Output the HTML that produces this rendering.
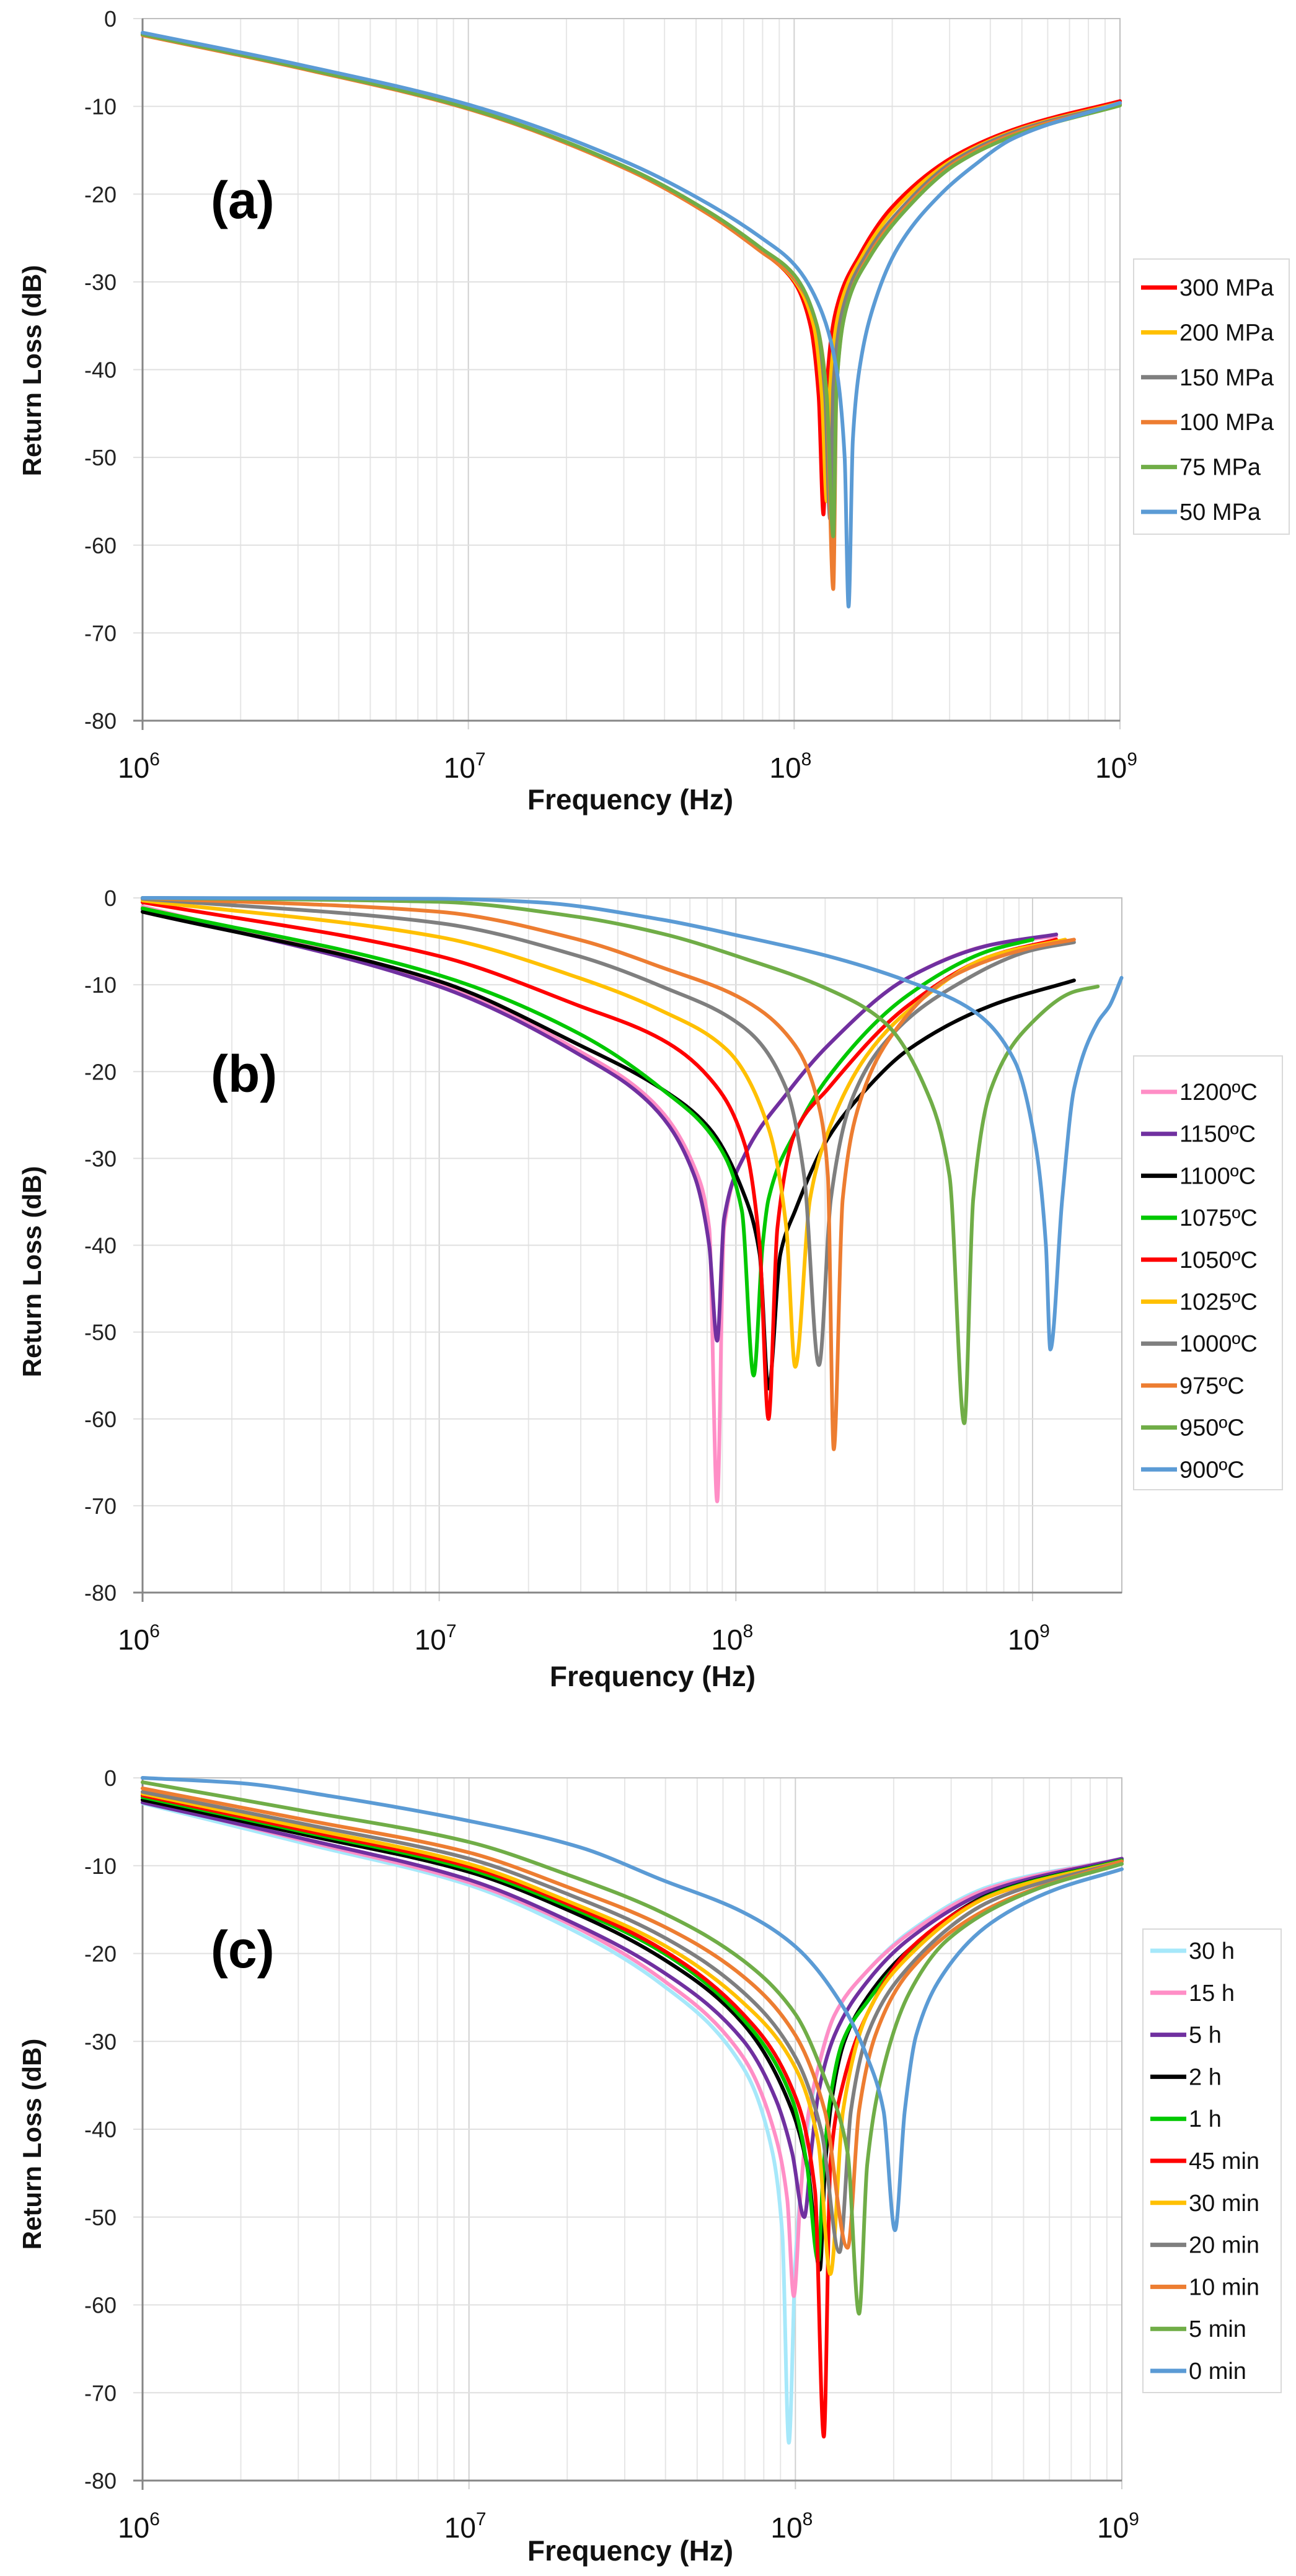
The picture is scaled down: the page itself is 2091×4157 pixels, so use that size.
<!DOCTYPE html>
<html><head><meta charset="utf-8"><style>
html,body{margin:0;padding:0;background:#fff;}
svg{display:block;font-family:"Liberation Sans",sans-serif;}
</style></head>
<body>
<svg id="fig" width="2091" height="4157" viewBox="0 0 2091 4157" xmlns="http://www.w3.org/2000/svg"></svg>
<script>
// ---------- shared tick data ----------
const yTicks = [0,-10,-20,-30,-40,-50,-60,-70,-80];
const xDecades = [6,7,8,9];

// ---------- chart (a) data ----------
const aNames = ["300 MPa","200 MPa","150 MPa","100 MPa","75 MPa","50 MPa"];
const aX300 = [6,6.5,7,7.5,7.75,7.9,8.0,8.05,8.075,8.09,8.1,8.13,8.2,8.3,8.5,8.7,9];
const aY300 = [-1.8,-5.7,-10.2,-17.3,-22.5,-26.5,-30,-35,-43,-56.5,-42,-33,-27,-21.5,-15.5,-12.3,-9.4];
const aX200 = [6,6.5,7,7.5,7.75,7.9,8.0,8.06,8.085,8.1,8.11,8.14,8.21,8.31,8.5,8.7,9];
const aY200 = [-1.8,-5.7,-10.2,-17.3,-22.5,-26.5,-29.8,-35,-43,-55,-42,-33,-27,-21.7,-15.8,-12.5,-9.6];
const aX150 = [6,6.5,7,7.5,7.75,7.9,8.0,8.07,8.095,8.11,8.12,8.15,8.22,8.32,8.5,8.7,9];
const aY150 = [-1.8,-5.7,-10.2,-17.3,-22.5,-26.5,-29.6,-35,-43,-57,-42,-33,-27,-22,-16,-12.6,-9.7];
const aX100 = [6,6.5,7,7.5,7.75,7.9,8.0,8.07,8.1,8.12,8.13,8.16,8.23,8.33,8.5,8.7,9];
const aY100 = [-1.9,-5.8,-10.3,-17.4,-22.6,-26.6,-29.5,-35,-43,-65,-42,-33,-27,-22,-16.3,-12.8,-9.8];
const aX75 = [6,6.5,7,7.5,7.75,7.9,8.0,8.07,8.1,8.12,8.13,8.16,8.23,8.33,8.5,8.7,9];
const aY75 = [-1.8,-5.7,-10.2,-17.2,-22.3,-26.2,-29.2,-35,-43,-59,-42,-33,-27.3,-22.3,-16.5,-13,-9.9];
const aX50 = [6,6.5,7,7.5,7.75,7.9,8.0,8.08,8.13,8.155,8.167,8.18,8.2,8.25,8.32,8.45,8.55,8.67,9];
const aY50 = [-1.6,-5.4,-9.8,-16.6,-21.4,-25,-28,-33,-40,-50,-67,-48,-40,-32,-26,-20,-16.8,-13.7,-9.6];

// ---------- chart (b) data ----------
const bNames = ["1200ºC","1150ºC","1100ºC","1075ºC","1050ºC","1025ºC","1000ºC","975ºC","950ºC","900ºC"];
const bX1200 = [6,7,7.47,7.72,7.86,7.91,7.937,7.96,8.03,8.17,8.31,8.58,8.86,9.08];
const bY1200 = [-1.0,-9.8,-17.6,-23.5,-31,-38,-69.5,-38,-29.6,-22.6,-17,-9.2,-5.4,-4.4];
const bX1150 = [6,7,7.47,7.72,7.86,7.91,7.937,7.96,8.03,8.17,8.31,8.58,8.86,9.08];
const bY1150 = [-1.3,-10.2,-18,-24,-32,-40,-51,-37,-29.6,-22.6,-17,-9.2,-5.4,-4.2];
const bX1100 = [6,7,7.47,7.75,7.91,8.02,8.08,8.11,8.15,8.2,8.31,8.44,8.58,8.86,9.14];
const bY1100 = [-1.6,-9.6,-16.9,-22,-26.5,-33.5,-41,-56.5,-41,-36,-27.7,-22,-17.5,-12.4,-9.5];
const bX1075 = [6,7,7.47,7.75,7.94,8.02,8.06,8.09,8.11,8.2,8.31,8.58,8.86,9.0];
const bY1075 = [-1.2,-8.9,-15.6,-22,-28.4,-36,-55,-40,-34.7,-27,-20.7,-11.2,-6,-4.8];
const bX1050 = [6,7,7.47,7.75,7.91,8.03,8.08,8.11,8.14,8.2,8.31,8.58,8.86,9.08];
const bY1050 = [-0.5,-6.7,-12.4,-16.3,-20.7,-28.4,-40,-60,-38,-27,-22,-12.4,-6.7,-4.8];
const bX1025 = [6,7,7.47,7.75,7.97,8.11,8.17,8.2,8.25,8.31,8.44,8.58,8.86,9.11];
const bY1025 = [-0.3,-4.5,-9.2,-13,-17.5,-26.5,-38,-54,-34.7,-27,-18.2,-13,-6.7,-4.8];
const bX1000 = [6,7,7.47,7.75,8.03,8.17,8.23,8.28,8.32,8.39,8.53,8.72,9.0,9.14];
const bY1000 = [-0.1,-2.9,-6.7,-10.2,-15,-22,-32,-53.8,-34.7,-23.3,-15.6,-10.5,-6,-5.1];
const bX975 = [6,7,7.47,7.75,8.03,8.2,8.28,8.31,8.33,8.36,8.42,8.53,8.72,9.0,9.14];
const bY975 = [0,-1.6,-4.8,-8,-11.8,-17,-24,-32,-63.5,-34.7,-23.3,-15.6,-9.2,-5.7,-4.8];
const bX950 = [6,7,7.47,7.75,8.03,8.31,8.5,8.64,8.72,8.77,8.8,8.86,9.0,9.14,9.22];
const bY950 = [0,-0.45,-2.2,-4.1,-7,-10.5,-14.3,-22,-32,-60.5,-34.7,-22,-14.3,-10.8,-10.2];
const bX900 = [6,7,7.33,7.75,8.03,8.31,8.58,8.8,8.94,9.01,9.045,9.06,9.1,9.14,9.22,9.26,9.3];
const bY900 = [0,-0.1,-0.5,-2.5,-4.5,-6.7,-9.6,-13,-18.8,-28.4,-40,-52,-34.7,-22,-14.3,-12.4,-9.2];

// ---------- chart (c) data ----------
const cNames = ["30 h","15 h","5 h","2 h","1 h","45 min","30 min","20 min","10 min","5 min","0 min"];
const cX30h = [6,6.5,7,7.3,7.59,7.84,7.93,7.96,7.98,8.0,8.03,8.07,8.12,8.22,8.35,8.6,9];
const cY30h = [-2.9,-7.5,-12.2,-17,-23.5,-33,-42.7,-52,-75.7,-55,-42,-33,-27,-22,-17.5,-12.3,-9.2];
const cX15h = [6,6.5,7,7.3,7.59,7.84,7.94,7.975,7.995,8.015,8.033,8.07,8.12,8.22,8.35,8.6,9];
const cY15h = [-2.6,-7.2,-11.9,-16.5,-22.9,-31.8,-40.9,-48,-59,-48,-40,-33,-27,-22,-17.7,-12.5,-9.2];
const cX5h = [6,6.5,7,7.3,7.59,7.84,7.94,7.99,8.027,8.05,8.07,8.12,8.22,8.35,8.6,9];
const cY5h = [-2.8,-7.0,-11.6,-16.2,-22,-29.9,-36.6,-42.7,-50,-42,-36,-29.3,-23.2,-18.3,-12.8,-9.2];
const cX2h = [6,6.5,7,7.3,7.59,7.84,7.99,8.04,8.075,8.09,8.11,8.15,8.22,8.35,8.6,9];
const cY2h = [-2.5,-6.5,-10.7,-15,-20.5,-28,-37.9,-45,-56,-45,-37,-30,-25,-19.5,-13.2,-9.4];
const cX1h = [6,6.5,7,7.3,7.59,7.84,7.99,8.035,8.07,8.085,8.105,8.145,8.22,8.35,8.6,9];
const cY1h = [-2.2,-6.2,-10.4,-14.6,-19.8,-27.5,-36.6,-44,-55,-45,-37,-30,-25.5,-19.8,-13.3,-9.4];
const cX45m = [6,6.5,7,7.3,7.59,7.84,7.99,8.06,8.087,8.107,8.146,8.22,8.35,8.6,9];
const cY45m = [-2.0,-6.0,-10.1,-14.3,-19.5,-26.9,-35.4,-47,-75,-44,-34.8,-26.9,-19.5,-13.4,-9.5];
const cX30m = [6,6.5,7,7.3,7.59,7.84,8.0,8.07,8.107,8.146,8.22,8.35,8.6,9];
const cY30m = [-1.8,-5.7,-9.8,-14,-18.9,-25.6,-33,-41.5,-56.5,-37.9,-26.9,-20.2,-13.4,-9.5];
const cX20m = [6,6.5,7,7.3,7.59,7.84,8.0,8.08,8.135,8.17,8.22,8.35,8.6,9];
const cY20m = [-1.6,-5.3,-9.2,-13.2,-18,-24.4,-31.8,-40.3,-54,-37.9,-29.3,-21.4,-14,-9.5];
const cX10m = [6,6.5,7,7.3,7.59,7.84,8.0,8.09,8.16,8.195,8.245,8.35,8.6,9];
const cY10m = [-1.2,-4.8,-8.5,-12.4,-16.8,-22.6,-29.3,-37.9,-53.5,-37.9,-29.3,-22,-14.7,-9.5];
const cX5m = [6,6.5,7,7.3,7.59,7.84,8.0,8.09,8.16,8.195,8.22,8.27,8.35,8.47,8.73,9];
const cY5m = [-0.5,-3.8,-7.3,-11,-15.3,-20.8,-26.9,-34.2,-42.7,-61,-44,-33,-24.4,-18.3,-12.8,-9.8];
const cX0m = [6,6.3,6.58,7,7.34,7.59,7.84,8.0,8.15,8.22,8.27,8.305,8.335,8.37,8.47,8.6,8.79,9];
const cY0m = [0,-0.6,-2.1,-4.9,-7.9,-11.6,-15.3,-19.2,-26.3,-31.8,-37.9,-51.5,-37.9,-29.3,-21.4,-16.5,-12.8,-10.4];

const aSeries = [[aX300,aY300],[aX200,aY200],[aX150,aY150],[aX100,aY100],[aX75,aY75],[aX50,aY50]];
const bSeries = [[bX1200,bY1200],[bX1150,bY1150],[bX1100,bY1100],[bX1075,bY1075],[bX1050,bY1050],[bX1025,bY1025],[bX1000,bY1000],[bX975,bY975],[bX950,bY950],[bX900,bY900]];
const cSeries = [[cX30h,cY30h],[cX15h,cY15h],[cX5h,cY5h],[cX2h,cY2h],[cX1h,cY1h],[cX45m,cY45m],[cX30m,cY30m],[cX20m,cY20m],[cX10m,cY10m],[cX5m,cY5m],[cX0m,cY0m]];

// ---------- styles ----------
const aColors = ["#FF0000","#FFC000","#7F7F7F","#ED7D31","#70AD47","#5B9BD5"];
const bColors = ["#FF8EC6","#7030A0","#000000","#00C800","#FF0000","#FFC000","#7F7F7F","#ED7D31","#70AD47","#5B9BD5"];
const cColors = ["#A6E8FA","#FF8EC6","#7030A0","#000000","#00C800","#FF0000","#FFC000","#7F7F7F","#ED7D31","#70AD47","#5B9BD5"];

const NS = "http://www.w3.org/2000/svg";
const svg = document.getElementById('fig');
function mk(tag, attrs, parent){ const e=document.createElementNS(NS,tag); for(const k in attrs) e.setAttribute(k,attrs[k]); (parent||svg).appendChild(e); return e; }

// monotone cubic (Fritsch-Carlson) path through pixel points
function monoPath(xs, ys){
  const n = xs.length;
  if(n<2) return '';
  const d=[], m=new Array(n);
  for(let i=0;i<n-1;i++) d.push((ys[i+1]-ys[i])/(xs[i+1]-xs[i]));
  m[0]=d[0]; m[n-1]=d[n-2];
  for(let i=1;i<n-1;i++){
    if(d[i-1]*d[i]<=0) m[i]=0;
    else { const w1=2*(xs[i+1]-xs[i])+(xs[i]-xs[i-1]), w2=(xs[i+1]-xs[i])+2*(xs[i]-xs[i-1]);
      m[i]=(w1+w2)/(w1/d[i-1]+w2/d[i]); }
  }
  let p='M'+xs[0].toFixed(1)+','+ys[0].toFixed(1);
  for(let i=0;i<n-1;i++){
    const h=xs[i+1]-xs[i];
    p+=' C'+(xs[i]+h/3).toFixed(1)+','+(ys[i]+m[i]*h/3).toFixed(1)+' '+(xs[i+1]-h/3).toFixed(1)+','+(ys[i+1]-m[i+1]*h/3).toFixed(1)+' '+xs[i+1].toFixed(1)+','+ys[i+1].toFixed(1);
  }
  return p;
}

function drawChart(id, L, names, series, colors, tag){
  const g = mk('g',{});
  
  
  const xS = lg => L.left + (lg-6)*(L.right-L.left)/(L.xmax-6);
  const yS = v => L.top + (0-v)*(L.bottom-L.top)/80;
  for(let d=6; d<Math.ceil(L.xmax); d++){
    for(let m=2;m<=9;m++){
      const lg = d+Math.log10(m);
      if(lg>L.xmax) break;
      const ln = mk('line',{x1:xS(lg),x2:xS(lg),y1:L.top,y2:L.bottom,stroke:'#E6E6E6','stroke-width':2},g);
      
      
    }
  }
  xDecades.forEach(d=>{
    const ln = mk('line',{x1:xS(d),x2:xS(d),y1:L.top,y2:L.bottom+14,stroke:'#D0D0D0','stroke-width':2},g);
    
    
  });
  yTicks.forEach(v=>{
    const ln = mk('line',{x1:L.left-15,x2:L.right,y1:yS(v),y2:yS(v),stroke:'#E0E0E0','stroke-width':2},g);
    
    
    const t = mk('text',{x:L.left-42,y:yS(v)+13,'text-anchor':'end','font-size':36,fill:'#222'},g);
    t.textContent = String(v);
    
    
  });
  const frame = mk('rect',{x:L.left,y:L.top,width:L.right-L.left,height:L.bottom-L.top,fill:'none',stroke:'#BFBFBF','stroke-width':2},g);
  
  
  const xa = mk('line',{x1:L.left-15,x2:L.right,y1:L.bottom,y2:L.bottom,stroke:'#868686','stroke-width':3},g);
  
  
  const ya = mk('line',{x1:L.left,x2:L.left,y1:L.top,y2:L.bottom+15,stroke:'#868686','stroke-width':3},g);
  
  
  xDecades.forEach(d=>{
    const t = mk('text',{x:xS(d)-6,y:L.bottom+92,'text-anchor':'middle','font-size':46,fill:'#111'},g);
    
    
    const a = mk('tspan',{},t); a.textContent='10';
    const b = mk('tspan',{dy:-20,'font-size':30},t); b.textContent=String(d);
  });
  series.forEach((s,i)=>{
    const px = s[0].map(xS), py = s[1].map(yS);
    const p = mk('path',{d:monoPath(px,py),fill:'none',stroke:colors[i],'stroke-width':6,'stroke-linejoin':'round','stroke-linecap':'round'},g);
    
    
  });
  const xt = mk('text',{x:L.xtX,y:L.xtY,'text-anchor':'middle','font-size':46,'font-weight':'bold',fill:'#111'},g);
  xt.textContent = 'Frequency (Hz)';
  
  
  const yt = mk('text',{x:0,y:0,'text-anchor':'middle','font-size':42,'font-weight':'bold',fill:'#111',transform:'translate(66,'+L.ytY+') rotate(-90)'},g);
  yt.textContent = 'Return Loss (dB)';
  
  
  const pl = mk('text',{x:340,y:L.tagY,'font-size':84,'font-weight':'bold',fill:'#000'},g);
  pl.textContent = tag;
  
  
  const lg = mk('g',{},g);
  
  
  mk('rect',{x:L.legX,y:L.legY,width:L.legW,height:L.legH,fill:'#fff',stroke:'#D9D9D9','stroke-width':2},lg);
  names.forEach((n,i)=>{
    const y = L.legY + L.legFirst + i*L.legStep;
    const e = mk('g',{},lg);
    
    
    mk('line',{x1:L.legX+12,x2:L.legX+70,y1:y,y2:y,stroke:colors[i],'stroke-width':7},e);
    const t = mk('text',{x:L.legX+74,y:y+13,'font-size':38,fill:'#111'},e);
    t.textContent = n;
  });
}

drawChart('a',{left:230,right:1807,top:30,bottom:1163,xmax:9,xtX:1017,xtY:1306,ytY:598,tagY:352,
  legX:1829,legY:418,legW:251,legH:444,legFirst:46,legStep:72.4},aNames,aSeries,aColors,'(a)');
drawChart('b',{left:230,right:1810,top:1449,bottom:2570,xmax:9.301,xtX:1053,xtY:2721,ytY:2052,tagY:1762,
  legX:1829,legY:1704,legW:240,legH:700,legFirst:58,legStep:67.7},bNames,bSeries,bColors,'(b)');
drawChart('c',{left:230,right:1810,top:2869,bottom:4003,xmax:9,xtX:1017,xtY:4132,ytY:3460,tagY:3175,
  legX:1844,legY:3113,legW:223,legH:748,legFirst:35,legStep:67.8},cNames,cSeries,cColors,'(c)');
</script>
</body></html>
